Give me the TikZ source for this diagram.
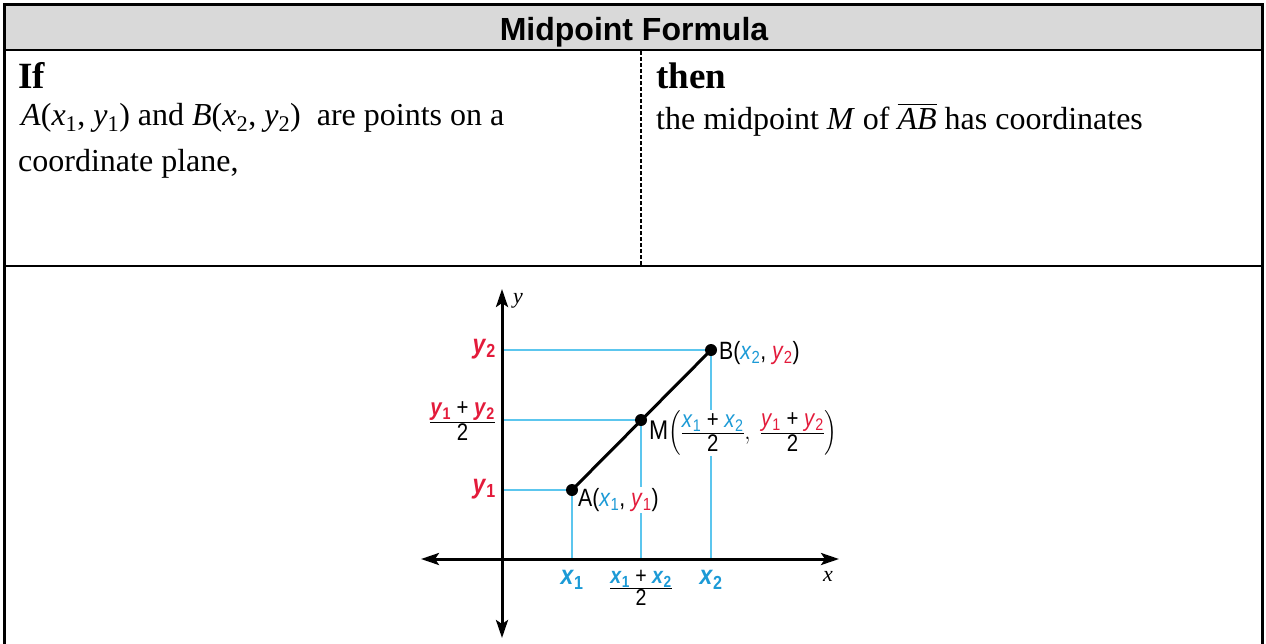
\documentclass[tikz,border=0pt]{standalone}
\usepackage{fontspec}
\usepackage{amsmath}
\usepackage{graphicx}
\setmainfont{Liberation Serif}
\setsansfont{Liberation Sans}
\usetikzlibrary{arrows.meta}
\definecolor{hdr}{HTML}{D9D9D9}
\definecolor{cb}{HTML}{1C9AD6}
\definecolor{cr}{HTML}{E31B3B}
\definecolor{cg}{HTML}{5CC6EE}
\newcommand\fs[1]{\fontsize{#1}{#1}\selectfont}
\newcommand\cond[1]{\scalebox{0.85}[1]{#1}}
\newcommand\bx[1]{\textcolor{cb}{\textit{x}\textsubscript{#1}}}
\newcommand\ry[1]{\textcolor{cr}{\textit{y}\textsubscript{#1}}}
\newcommand\bbx[1]{\textcolor{cb}{\textbf{\textit{x}\textsubscript{#1}}}}
\newcommand\bry[1]{\textcolor{cr}{\textbf{\textit{y}\textsubscript{#1}}}}
\tikzset{
  frame/.style={line width=3pt},
  rule/.style={line width=2.5pt},
  guide/.style={cg, line width=1.1pt},
  axis/.style={line width=3pt, {Stealth[length=18pt,width=12pt,inset=4pt]}-{Stealth[length=18pt,width=12pt,inset=4pt]}},
  dot/.style={circle, fill=black, inner sep=0pt, minimum size=12pt},
  lbl/.style={font=\sffamily\fs{25}, inner sep=1pt},
  body/.style={font=\fs{32}, anchor=base west, inner sep=0pt},
  bold/.style={font=\bfseries\fs{37}, anchor=base west, inner sep=0pt}
}
\begin{document}
\begin{tikzpicture}[x=1pt,y=-1pt]
\useasboundingbox (0,0) rectangle (1266,643);
% table
\fill[hdr] (4.5,4.5) rectangle (1262.5,50);
\draw[frame] (4.5,650) -- (4.5,4.5) -- (1262.5,4.5) -- (1262.5,650);
\draw[rule] (4.5,50) -- (1262.5,50);
\draw[rule] (4.5,266) -- (402,266);
\draw[line width=1.5pt] (402,266) -- (830,266);
\draw[rule] (830,266) -- (1262.5,266);
\draw[line width=1.5pt, dash pattern=on 4pt off 2pt] (641,51) -- (641,265);
\node[font=\sffamily\bfseries\fs{32}, anchor=base] (title) at (634,40) {Midpoint Formula};
\node[bold] (if) at (18,88) {If};
\node[body] (l1) at (21,125) {\textit{A}(\textit{x}\textsubscript{1}, \textit{y}\textsubscript{1}) and \textit{B}(\textit{x}\textsubscript{2}, \textit{y}\textsubscript{2})\ \ are points on a};
\node[body] (l2) at (18,171) {coordinate plane,};
\node[bold] (then) at (656,88) {then};
\node[body] (r1) at (656,129) {the midpoint \textit{M} of $\overline{\hbox{\itshape AB}}$ has coordinates};
% graph
\coordinate (O) at (502,559);
\coordinate (A) at (572,490);
\coordinate (M) at (641,420);
\coordinate (B) at (711,350);
\coordinate (xl) at (421,559);
\coordinate (xr) at (839,559);
\coordinate (yt) at (502,289);
\coordinate (yb) at (502,638);
\draw[guide] (O |- B) -- (B) -- (B |- O);
\draw[guide] (O |- M) -- (M) -- (M |- O);
\draw[guide] (O |- A) -- (A) -- (A |- O);
\node[lbl, anchor=west, fill=white] (lM) at (648,433) {\cond{\fs{27}M$\left(\frac{\text{\fs{24}\bx1 + \bx2}}{\text{\fs{24}2}},\ \frac{\text{\fs{24}\ry1 + \ry2}}{\text{\fs{24}2}}\right)$}};
\node[lbl, anchor=west, fill=white] (lA) at (577,500) {\cond{A(\bx1, \ry1)}};
\node[lbl, anchor=west] (lB) at (718,353) {\cond{B(\bx2, \ry2)}};
\draw[axis] (xl) -- (xr);
\draw[axis] (yb) -- (yt);
\draw[line width=3pt] (A) -- (B);
\node[dot] (dA) at (A) {};
\node[dot] (dM) at (M) {};
\node[dot] (dB) at (B) {};
\node[lbl, anchor=east, font=\sffamily\fs{27}] (ly2) at (497,349) {\cond{\bry2}};
\node[lbl, anchor=east, font=\sffamily\fs{27}] (ly1) at (497,489) {\cond{\bry1}};
\node[lbl, anchor=east, font=\sffamily\fs{20}] (lym) at (497,421) {\cond{$\frac{\text{\fs{24}\bry1 + \bry2}}{\text{\fs{24}2}}$}};
\node[lbl, font=\sffamily\fs{27}] (lx1) at (572,580) {\cond{\bbx1}};
\node[lbl, font=\sffamily\fs{27}] (lx2) at (711,580) {\cond{\bbx2}};
\node[lbl, font=\sffamily\fs{20}] (lxm) at (641,588) {\cond{$\frac{\text{\fs{23}\bbx1 + \bbx2}}{\text{\fs{23}2}}$}};
\node[font=\itshape\fs{22}] (xlab) at (828,576) {x};
\node[font=\itshape\fs{22}] (ylab) at (518,301) {y};
\end{tikzpicture}
\end{document}
